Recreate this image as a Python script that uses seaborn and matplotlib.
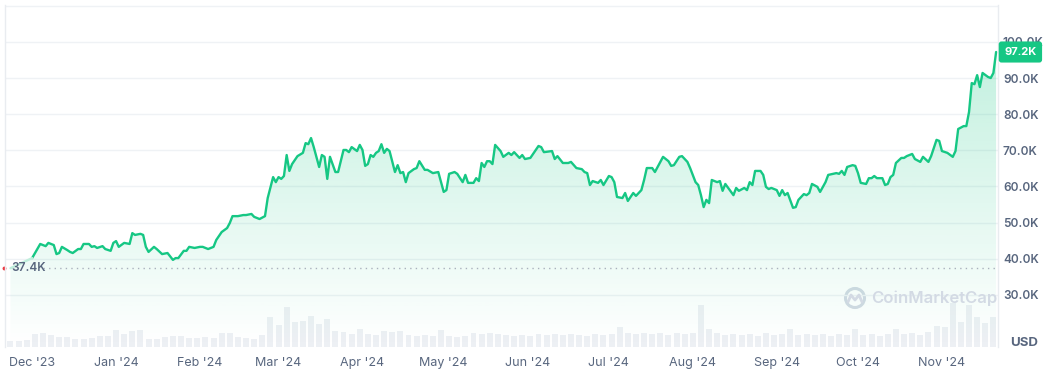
import numpy as np
import pandas as pd
import matplotlib
matplotlib.use("Agg")
import matplotlib.pyplot as plt
import matplotlib.dates as mdates
from matplotlib.patches import Polygon, Circle
from matplotlib.lines import Line2D
from matplotlib.transforms import IdentityTransform
import seaborn as sns

# price, thousands of USD
dates = [
    "2023-11-23", "2023-12-01", "2023-12-04", "2023-12-06", "2023-12-07", "2023-12-09", "2023-12-10",
    "2023-12-11", "2023-12-12", "2023-12-14", "2023-12-15", "2023-12-16", "2023-12-18", "2023-12-19",
    "2023-12-20", "2023-12-22", "2023-12-23", "2023-12-24", "2023-12-25", "2023-12-27", "2023-12-28",
    "2023-12-30", "2023-12-31", "2024-01-01", "2024-01-02", "2024-01-04", "2024-01-06", "2024-01-07",
    "2024-01-08", "2024-01-10", "2024-01-11", "2024-01-12", "2024-01-13", "2024-01-15", "2024-01-16",
    "2024-01-18", "2024-01-20", "2024-01-22", "2024-01-23", "2024-01-24", "2024-01-26", "2024-01-27",
    "2024-01-28", "2024-01-30", "2024-02-01", "2024-02-02", "2024-02-04", "2024-02-06", "2024-02-07",
    "2024-02-09", "2024-02-11", "2024-02-12", "2024-02-13", "2024-02-15", "2024-02-17", "2024-02-18",
    "2024-02-20", "2024-02-21", "2024-02-23", "2024-02-25", "2024-02-26", "2024-02-28", "2024-02-29",
    "2024-03-01", "2024-03-02", "2024-03-03", "2024-03-04", "2024-03-05", "2024-03-06", "2024-03-08",
    "2024-03-10", "2024-03-11", "2024-03-12", "2024-03-13", "2024-03-14", "2024-03-16", "2024-03-17",
    "2024-03-18", "2024-03-19", "2024-03-20", "2024-03-22", "2024-03-23", "2024-03-25", "2024-03-26",
    "2024-03-27", "2024-03-28", "2024-03-30", "2024-03-31", "2024-04-01", "2024-04-02", "2024-04-03",
    "2024-04-04", "2024-04-05", "2024-04-06", "2024-04-07", "2024-04-08", "2024-04-09", "2024-04-10",
    "2024-04-11", "2024-04-13", "2024-04-14", "2024-04-15", "2024-04-16", "2024-04-17", "2024-04-18",
    "2024-04-20", "2024-04-21", "2024-04-22", "2024-04-24", "2024-04-25", "2024-04-27", "2024-04-29",
    "2024-05-01", "2024-05-02", "2024-05-03", "2024-05-05", "2024-05-06", "2024-05-08", "2024-05-09",
    "2024-05-10", "2024-05-12", "2024-05-13", "2024-05-14", "2024-05-15", "2024-05-16", "2024-05-17",
    "2024-05-18", "2024-05-19", "2024-05-20", "2024-05-22", "2024-05-23", "2024-05-25", "2024-05-26",
    "2024-05-27", "2024-05-29", "2024-05-30", "2024-05-31", "2024-06-02", "2024-06-04", "2024-06-05",
    "2024-06-06", "2024-06-07", "2024-06-10", "2024-06-11", "2024-06-12", "2024-06-14", "2024-06-16",
    "2024-06-17", "2024-06-19", "2024-06-21", "2024-06-22", "2024-06-23", "2024-06-24", "2024-06-25",
    "2024-06-27", "2024-06-28", "2024-06-29", "2024-07-01", "2024-07-02", "2024-07-03", "2024-07-04",
    "2024-07-06", "2024-07-07", "2024-07-08", "2024-07-10", "2024-07-11", "2024-07-13", "2024-07-14",
    "2024-07-15", "2024-07-17", "2024-07-18", "2024-07-20", "2024-07-21", "2024-07-23", "2024-07-24",
    "2024-07-25", "2024-07-27", "2024-07-28", "2024-07-30", "2024-07-31", "2024-08-02", "2024-08-03",
    "2024-08-04", "2024-08-05", "2024-08-06", "2024-08-07", "2024-08-08", "2024-08-10", "2024-08-11",
    "2024-08-12", "2024-08-13", "2024-08-16", "2024-08-17", "2024-08-18", "2024-08-20", "2024-08-21",
    "2024-08-22", "2024-08-23", "2024-08-24", "2024-08-26", "2024-08-27", "2024-08-28", "2024-08-29",
    "2024-08-30", "2024-09-01", "2024-09-02", "2024-09-03", "2024-09-04", "2024-09-05", "2024-09-07",
    "2024-09-08", "2024-09-09", "2024-09-11", "2024-09-12", "2024-09-13", "2024-09-14", "2024-09-16",
    "2024-09-17", "2024-09-19", "2024-09-20", "2024-09-23", "2024-09-24", "2024-09-25", "2024-09-26",
    "2024-09-27", "2024-09-29", "2024-09-30", "2024-10-01", "2024-10-02", "2024-10-04", "2024-10-05",
    "2024-10-06", "2024-10-07", "2024-10-08", "2024-10-10", "2024-10-11", "2024-10-12", "2024-10-13",
    "2024-10-14", "2024-10-15", "2024-10-17", "2024-10-18", "2024-10-19", "2024-10-21", "2024-10-22",
    "2024-10-24", "2024-10-25", "2024-10-27", "2024-10-28", "2024-10-30", "2024-10-31", "2024-11-01",
    "2024-11-03", "2024-11-05", "2024-11-06", "2024-11-07", "2024-11-09", "2024-11-10", "2024-11-11",
    "2024-11-12", "2024-11-13", "2024-11-14", "2024-11-15", "2024-11-16", "2024-11-18", "2024-11-19",
    "2024-11-20", "2024-11-21",
]
price_k = [
    37.4, 40.2, 44.1, 43.5, 44.4, 43.8, 41.3,
    41.6, 43.3, 42.4, 41.9, 41.6, 42.7, 42.7,
    44.1, 44.1, 43.3, 43.5, 43.0, 43.5, 42.7,
    42.2, 44.4, 44.9, 43.3, 44.4, 44.1, 47.1,
    46.6, 46.9, 46.6, 43.3, 41.9, 43.3, 42.7,
    41.3, 41.6, 39.7, 40.2, 40.2, 42.2, 42.2,
    43.3, 43.0, 43.3, 43.3, 42.7, 43.3, 45.2,
    47.4, 48.5, 49.9, 51.8, 51.8, 52.1, 52.1,
    52.4, 51.6, 51.0, 51.8, 56.8, 62.6, 61.2,
    62.6, 62.1, 62.9, 68.7, 64.3, 66.2, 68.4,
    69.3, 72.0, 71.7, 73.4, 70.9, 65.4, 68.7,
    68.2, 62.1, 68.2, 64.0, 64.0, 70.1, 70.1,
    69.5, 70.9, 69.8, 71.5, 70.1, 65.7, 66.2,
    68.7, 68.2, 69.3, 69.8, 71.7, 69.3, 70.4,
    69.8, 64.0, 65.9, 63.7, 64.0, 61.2, 63.7,
    64.8, 65.1, 67.0, 64.6, 64.6, 63.7, 64.0,
    58.5, 59.0, 63.5, 64.0, 63.5, 61.2, 63.2,
    61.0, 61.0, 62.3, 61.5, 66.5, 65.4, 67.0,
    67.0, 66.2, 71.5, 69.8, 68.2, 69.3, 68.7,
    69.5, 67.9, 68.7, 67.6, 67.9, 70.1, 71.2,
    70.9, 69.5, 69.8, 67.6, 68.4, 66.5, 66.5,
    66.8, 65.1, 64.8, 64.0, 63.7, 60.4, 61.5,
    61.0, 61.8, 60.4, 62.9, 62.6, 61.2, 57.1,
    56.8, 58.2, 56.0, 58.2, 57.4, 59.0, 61.8,
    65.1, 65.1, 64.0, 66.8, 68.2, 67.0, 65.7,
    65.9, 68.2, 68.4, 66.8, 65.1, 61.2, 60.4,
    57.6, 54.3, 56.3, 55.4, 61.8, 61.2, 61.5,
    58.8, 60.7, 57.6, 59.6, 58.8, 59.6, 59.0,
    61.2, 60.4, 64.3, 64.3, 63.2, 59.9, 59.3,
    59.6, 59.0, 57.4, 59.0, 57.6, 58.2, 54.1,
    54.3, 56.3, 57.9, 57.6, 58.2, 60.7, 59.9,
    58.5, 61.2, 63.2, 63.7, 63.5, 64.3, 63.2,
    65.4, 65.9, 65.7, 63.7, 61.0, 60.7, 62.3,
    62.3, 62.9, 62.3, 62.3, 60.4, 60.7, 62.6,
    63.2, 66.5, 67.9, 67.9, 68.4, 69.0, 67.6,
    66.8, 68.2, 66.8, 68.4, 72.9, 72.6, 69.8,
    69.3, 68.2, 69.8, 75.9, 76.7, 76.7, 80.6,
    88.6, 88.3, 90.8, 87.5, 91.4, 90.3, 90.0,
    91.4, 97.2,
]

# volume in billions USD, 3-day buckets starting at vol_start
vol_start = "2023-11-23"
volume_b = [
    15, 15, 18, 32, 35, 30, 25, 25, 20, 20, 22, 28, 28, 42, 32, 40, 42, 20, 20, 25,
    28, 28, 22, 22, 25, 22, 35, 35, 25, 22, 20, 30, 75, 55, 100, 62, 65, 78, 58, 70,
    40, 38, 32, 45, 32, 30, 40, 38, 40, 30, 28, 30, 28, 42, 28, 25, 28, 35, 32, 35,
    32, 30, 28, 30, 28, 32, 30, 32, 30, 32, 30, 28, 32, 30, 32, 50, 35, 32, 35, 32,
    35, 30, 35, 32, 35, 105, 45, 35, 30, 32, 30, 32, 28, 35, 30, 32, 45, 30, 32, 30,
    32, 28, 32, 30, 45, 30, 32, 28, 32, 45, 32, 35, 30, 38, 52, 50, 110, 62, 105, 75,
    60, 75,
]

start_price = 37.4
last_price = 97.2

GREEN = '#16c784'
TXT = '#58667e'
GRID = '#eff2f5'

sns.set_theme(style="white")
plt.rcParams['font.family'] = ['Inter', 'DejaVu Sans']

df = pd.DataFrame({'date': pd.to_datetime(dates), 'price': price_k})
vol = pd.DataFrame({'date': pd.date_range(vol_start, periods=len(volume_b), freq='3D'),
                    'volume': volume_b})

fig = plt.figure(figsize=(10.5, 3.76), dpi=100)
ax = fig.add_axes([0.0048, 0.0771, 0.9457, 0.9096])
ax2 = ax.twinx()
ax.set_zorder(ax2.get_zorder() + 1)
ax.patch.set_visible(False)

# volume bars
ax2.bar(vol['date'], vol['volume'], width=2.2, color='#edf0f4', linewidth=0)
ax2.set_ylim(0, 855)
ax2.set_yticks([])
for s in ax2.spines.values():
    s.set_visible(False)

# price line
sns.lineplot(data=df.iloc[1:], x='date', y='price', ax=ax, color=GREEN, linewidth=1.7)
sns.lineplot(data=df.iloc[:2], x='date', y='price', ax=ax, color='#bfeedb', linewidth=1.7)

x0 = pd.Timestamp('2023-11-21')
x1 = pd.Timestamp('2024-11-21 17:00')
ylo, yhi = 15.6, 110.2

# gradient fill under the line
xnum = mdates.date2num(df['date'])
verts = np.column_stack([np.r_[xnum[0], xnum, xnum[-1]], np.r_[ylo, df['price'].values, ylo]])
poly = Polygon(verts, closed=True, facecolor='none', edgecolor='none')
ax.add_patch(poly)
grad = np.zeros((256, 1, 4))
grad[..., :3] = matplotlib.colors.to_rgb(GREEN)
grad[..., 3] = np.linspace(0.30, 0.0, 256)[:, None]
im = ax.imshow(grad, aspect='auto', origin='upper', zorder=1,
               extent=[mdates.date2num(x0), mdates.date2num(x1), ylo, yhi])
im.set_clip_path(poly)

ax.set_xlim(x0, x1)
ax.set_ylim(ylo, yhi)

# start price reference
ax.axhline(start_price, xmin=0.038, xmax=1, color='#aab1bd', linestyle=(0, (1, 3)), linewidth=1, zorder=2)
ax.text(0.006, start_price, f'{start_price:.1f}K', transform=ax.get_yaxis_transform(),
        ha='left', va='center', fontsize=8.5, fontweight='semibold', color=TXT)
ax.plot([-0.001], [start_price], marker='o', markersize=1.8, color='#ea3943',
        transform=ax.get_yaxis_transform(), clip_on=False)

# axes styling
months = pd.date_range('2023-12-01', '2024-11-01', freq='MS')
ax.set_xticks(months)
ax.set_xticklabels([m.strftime("%b '%y") for m in months])
yt = list(range(30, 111, 10))
ax.set_yticks(yt)
ax.set_yticklabels([f'{v:.1f}K' if v <= 100 else '' for v in yt])
ax.yaxis.tick_right()
ax.tick_params(axis='x', length=0, pad=7, labelsize=9, labelcolor=TXT)
ax.tick_params(axis='y', length=0, pad=3.5, labelsize=8.5, labelcolor=TXT)
for lab in ax.get_yticklabels():
    lab.set_fontweight('semibold')
ax.grid(axis='y', color=GRID, linewidth=1)
ax.grid(axis='x', visible=False)
ax.set_xlabel('')
ax.set_ylabel('')
for side in ['top', 'bottom']:
    ax.spines[side].set_visible(False)
for side in ['left', 'right']:
    ax.spines[side].set_color('#e9ecf0')
    ax.spines[side].set_linewidth(1)

# last price badge (covers the 100.0K label, as on the original)
ax.annotate(f'{last_price:.1f}K', xy=(1.0, last_price), xycoords=('axes fraction', 'data'),
            xytext=(4.5, 0), textcoords='offset points', ha='left', va='center',
            color='white', fontsize=8, fontweight='bold', annotation_clip=False, zorder=10,
            bbox=dict(boxstyle='round,pad=0.5,rounding_size=0.25', fc=GREEN, ec='none'))

fig.text(1024 / 1050, 1 - 343 / 376, 'USD', ha='center', va='center',
         fontsize=9.5, fontweight='bold', color=TXT)

# watermark
wm = '#d3dae4'
fig.add_artist(Circle((855, 376 - 298), 9.5, transform=IdentityTransform(),
                      fill=False, edgecolor=wm, linewidth=2.2))
fig.add_artist(Line2D([848, 851, 855, 859, 862], [376 - 302, 376 - 295, 376 - 300, 376 - 295, 376 - 302],
                      transform=IdentityTransform(), color=wm, linewidth=2))
fig.text(871 / 1050, 1 - 298 / 376, 'CoinMarketCap', ha='left', va='center',
         fontsize=12, fontweight='semibold', color=wm)

fig.savefig('out.png', dpi=100, facecolor='white')
